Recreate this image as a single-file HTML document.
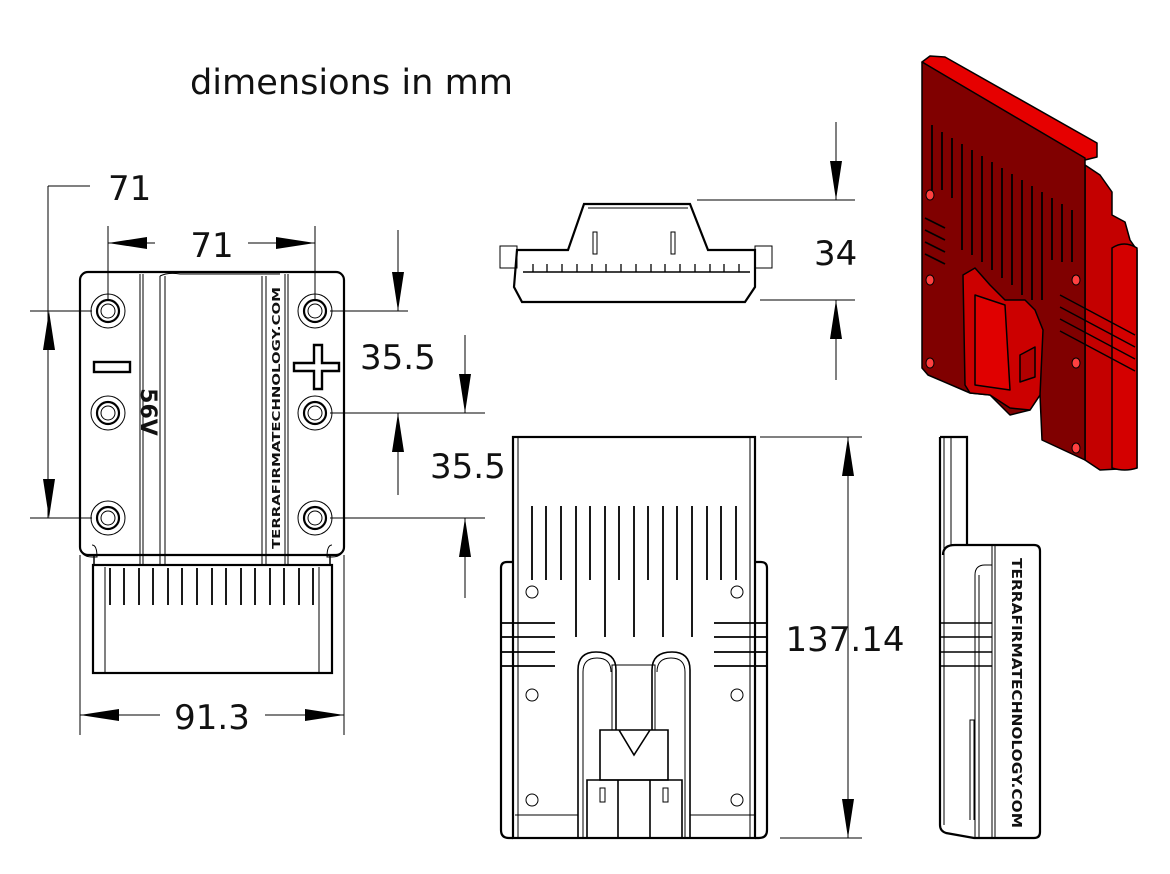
<!DOCTYPE html>
<html><head><meta charset="utf-8"><style>
html,body{margin:0;padding:0;background:#fff;}
svg{display:block;}
text{font-family:"DejaVu Sans","Liberation Sans",sans-serif;fill:#111;}
</style></head><body>
<svg width="1170" height="874" viewBox="0 0 1170 874" xmlns="http://www.w3.org/2000/svg">
<g fill="none" stroke="#000" stroke-width="1">
<!-- ===== FRONT VIEW ===== -->
<rect x="80" y="272" width="264" height="283" rx="8" stroke-width="2.2"/>
<path d="M80,545 q0,12 12,12 h5 q0,-12 -5,-12 M344,545 q0,12 -12,12 h-5 q0,-12 5,-12"/>
<path d="M94,555 v10 h236 v-10" stroke-width="1.5"/>
<line x1="140" y1="274" x2="140" y2="565"/><line x1="143" y1="274" x2="143" y2="565"/>
<line x1="160" y1="276" x2="160" y2="565"/><line x1="165" y1="276" x2="165" y2="565"/>
<line x1="262" y1="276" x2="262" y2="565"/><line x1="266" y1="276" x2="266" y2="565"/>
<line x1="285" y1="274" x2="285" y2="565"/><line x1="288" y1="274" x2="288" y2="565"/>
<path d="M160,276 q8,-4 20,-2 h100"/>
<rect x="93" y="565" width="239" height="108" stroke-width="2.2"/>
<line x1="105" y1="567" x2="105" y2="672"/><line x1="319" y1="567" x2="319" y2="672"/>
<g stroke-width="1.8">
<line x1="110" y1="568" x2="110" y2="605"/><line x1="124" y1="568" x2="124" y2="605"/><line x1="139" y1="568" x2="139" y2="605"/><line x1="153" y1="568" x2="153" y2="605"/><line x1="168" y1="568" x2="168" y2="605"/><line x1="182" y1="568" x2="182" y2="605"/><line x1="197" y1="568" x2="197" y2="605"/><line x1="212" y1="568" x2="212" y2="605"/><line x1="226" y1="568" x2="226" y2="605"/><line x1="241" y1="568" x2="241" y2="605"/><line x1="255" y1="568" x2="255" y2="605"/><line x1="270" y1="568" x2="270" y2="605"/><line x1="284" y1="568" x2="284" y2="605"/><line x1="299" y1="568" x2="299" y2="605"/><line x1="313" y1="568" x2="313" y2="605"/>
</g>
<!-- holes -->
<g>
<circle cx="108" cy="311" r="17"/><circle cx="108" cy="311" r="11" stroke-width="2.2"/><circle cx="108" cy="311" r="7"/>
<circle cx="315" cy="311" r="17"/><circle cx="315" cy="311" r="11" stroke-width="2.2"/><circle cx="315" cy="311" r="7"/>
<circle cx="108" cy="413" r="17"/><circle cx="108" cy="413" r="11" stroke-width="2.2"/><circle cx="108" cy="413" r="7"/>
<circle cx="315" cy="413" r="17"/><circle cx="315" cy="413" r="11" stroke-width="2.2"/><circle cx="315" cy="413" r="7"/>
<circle cx="108" cy="518" r="17"/><circle cx="108" cy="518" r="11" stroke-width="2.2"/><circle cx="108" cy="518" r="7"/>
<circle cx="315" cy="518" r="17"/><circle cx="315" cy="518" r="11" stroke-width="2.2"/><circle cx="315" cy="518" r="7"/>
</g>
<rect x="94" y="362" width="36" height="10" stroke-width="2.4"/>
<path d="M314,345 h8 v18 h17 v8 h-17 v18 h-8 v-18 h-20 v-8 h20 z" stroke-width="2.4"/>
<!-- dims front -->
<path d="M48,186 H90 M48,186 V518 M30,311 H92 M30,518 H92"/>
<path d="M108,226 V300 M315,226 V300 M108,243 H155 M248,243 H315"/>
<path d="M80,555 V735 M344,555 V735 M80,715 H160 M265,715 H344"/>
<path d="M398,230 V311 M330,311 H408 M465,335 V413 M330,413 H485 M398,413 V495 M330,518 H485 M465,518 V598"/>
<!-- ===== TOP VIEW ===== -->
<path d="M517,250 H568 L584,204 H690 L708,250 H755 V287 L745,302 H522 L514,287 Z" stroke-width="2.2"/>
<path d="M500,246 h17 v22 h-17 z M755,246 h17 v22 h-17 z"/>
<path d="M588,208 H688"/>
<line x1="523" y1="272" x2="750" y2="272" stroke-width="1.5"/>
<path d="M593,232 v22 h4 v-22 z M671,232 v22 h4 v-22 z"/>
<g stroke-width="1.3"><line x1="533" y1="264" x2="533" y2="272"/><line x1="547" y1="264" x2="547" y2="272"/><line x1="562" y1="264" x2="562" y2="272"/><line x1="577" y1="264" x2="577" y2="272"/><line x1="592" y1="264" x2="592" y2="272"/><line x1="606" y1="264" x2="606" y2="272"/><line x1="621" y1="264" x2="621" y2="272"/><line x1="636" y1="264" x2="636" y2="272"/><line x1="651" y1="264" x2="651" y2="272"/><line x1="665" y1="264" x2="665" y2="272"/><line x1="680" y1="264" x2="680" y2="272"/><line x1="695" y1="264" x2="695" y2="272"/><line x1="710" y1="264" x2="710" y2="272"/><line x1="724" y1="264" x2="724" y2="272"/><line x1="739" y1="264" x2="739" y2="272"/></g>
<path d="M836,122 V200 M697,200 H855 M760,300 H855 M836,300 V380"/>
<!-- ===== BOTTOM VIEW ===== -->
<rect x="513" y="437" width="242" height="401" stroke-width="2.2"/>
<line x1="518" y1="437" x2="518" y2="838"/><line x1="750" y1="437" x2="750" y2="838"/>
<path d="M513,562 H507 q-6,0 -6,6 V830 q0,8 8,8 H513 M755,562 H761 q6,0 6,6 V830 q0,8 -8,8 H755" stroke-width="2.2"/>
<g stroke-width="1.8">
<line x1="532" y1="506" x2="532" y2="580"/><line x1="546" y1="506" x2="546" y2="580"/><line x1="561" y1="506" x2="561" y2="580"/><line x1="576" y1="506" x2="576" y2="637"/><line x1="590" y1="506" x2="590" y2="580"/><line x1="605" y1="506" x2="605" y2="637"/><line x1="619" y1="506" x2="619" y2="580"/><line x1="634" y1="506" x2="634" y2="637"/><line x1="648" y1="506" x2="648" y2="580"/><line x1="663" y1="506" x2="663" y2="637"/><line x1="677" y1="506" x2="677" y2="580"/><line x1="692" y1="506" x2="692" y2="637"/><line x1="707" y1="506" x2="707" y2="580"/><line x1="721" y1="506" x2="721" y2="580"/><line x1="736" y1="506" x2="736" y2="580"/>
<path d="M502,623 H555 M502,637 H555 M502,652 H555 M502,666 H555 M714,623 H767 M714,637 H767 M714,652 H767 M714,666 H767"/>
</g>
<circle cx="532" cy="592" r="6"/><circle cx="737" cy="592" r="6"/><circle cx="532" cy="695" r="6"/><circle cx="737" cy="695" r="6"/><circle cx="532" cy="800" r="6"/><circle cx="737" cy="800" r="6"/>
<path d="M578,838 V670 q0,-18 18,-18 q20,0 20,18 v60 M690,838 V670 q0,-18 -18,-18 q-20,0 -20,18 v60" stroke-width="1.6"/>
<path d="M583,838 V672 q0,-14 14,-14 q14,0 14,14 M685,838 V672 q0,-14 -14,-14 q-14,0 -14,14"/>
<path d="M612,665 H655 V730 H612 Z"/>
<path d="M600,730 H668 V780 H600 Z M619,730 L634,755 L650,730" stroke-width="1.6"/>
<path d="M587,780 H682 V838 H587 Z M618,780 V838 M650,780 V838" stroke-width="1.6"/>
<rect x="600" y="788" width="5" height="14"/><rect x="663" y="788" width="5" height="14"/>
<path d="M515,815 H578 M690,815 H755"/>
<path d="M848,437 V838 M760,437 H862 M780,838 H862"/>
<!-- ===== SIDE VIEW ===== -->
<path d="M940,437 H967 V545 H955 q-12,0 -12,10 M940,437 V825 q0,6 6,8 l28,5 H1034 q6,0 6,-6 V551 q0,-6 -6,-6 H967" stroke-width="2.2"/>
<line x1="944" y1="437" x2="944" y2="825"/><line x1="951" y1="437" x2="951" y2="545"/>
<path d="M995,545 V838 M992,545 V838"/>
<path d="M975,838 V575 q0,-10 10,-10 h7 M979,838 V575"/>
<path d="M941,623 H992 M941,637 H992 M941,652 H992 M941,666 H992" stroke-width="1.6"/>
<path d="M970,820 V720 h4 V820"/>
</g>
<!-- arrowheads -->
<g fill="#000">
<polygon points="49,311 43,350 55,350"/><polygon points="49,518 43,479 55,479"/>
<polygon points="108,243 147,237 147,249"/><polygon points="315,243 276,237 276,249"/>
<polygon points="80,715 119,709 119,721"/><polygon points="344,715 305,709 305,721"/>
<polygon points="398,311 392,272 404,272"/><polygon points="465,413 459,374 471,374"/>
<polygon points="398,413 392,452 404,452"/><polygon points="465,518 459,557 471,557"/>
<polygon points="836,200 830,161 842,161"/><polygon points="836,300 830,339 842,339"/>
<polygon points="848,437 842,476 854,476"/><polygon points="848,838 842,799 854,799"/>
</g>
<!-- ===== ISO RED ===== -->
<g stroke="#000" stroke-width="1.5" stroke-linejoin="round">
<polygon points="1085,165 1100,175 1112,192 1112,215 1125,222 1130,240 1137,250 1137,468 1100,470 1085,460" fill="#c40000"/>
<path d="M1112,248 q12,-8 25,0 V468 q-12,4 -25,0 Z" fill="#d40000"/>
<polygon points="922,62 930,56 945,57 1097,143 1097,157 1085,160" fill="#e60000"/>
<polygon points="922,62 1085,158 1085,460 1042,440 1040,395 1030,410 1010,415 990,395 970,393 928,375 922,368" fill="#800000"/>
<polygon points="963,275 975,268 990,285 1005,300 1025,300 1035,310 1043,330 1040,395 1030,410 1010,408 990,395 970,393 965,385" fill="#cc0000"/>
<polygon points="975,295 1005,305 1010,390 975,385" fill="#e00000"/>
<path d="M1020,355 l15,-8 v30 l-15,5z" fill="#b00000"/>
</g>
<g stroke="#000" stroke-width="1.8">
<line x1="932" y1="125" x2="932" y2="190"/><line x1="942" y1="132" x2="942" y2="190"/><line x1="952" y1="138" x2="952" y2="198"/><line x1="962" y1="144" x2="962" y2="250"/><line x1="972" y1="150" x2="972" y2="255"/><line x1="982" y1="156" x2="982" y2="262"/><line x1="992" y1="162" x2="992" y2="270"/><line x1="1002" y1="168" x2="1002" y2="278"/><line x1="1012" y1="174" x2="1012" y2="285"/><line x1="1022" y1="180" x2="1022" y2="295"/><line x1="1032" y1="186" x2="1032" y2="300"/><line x1="1042" y1="192" x2="1042" y2="300"/><line x1="1052" y1="198" x2="1052" y2="260"/><line x1="1062" y1="204" x2="1062" y2="262"/><line x1="1072" y1="210" x2="1072" y2="262"/>
<path d="M925,218 L945,228 M925,230 L945,240 M925,242 L945,252 M925,254 L945,264" fill="none"/>
<path d="M1060,295 L1135,335 M1060,307 L1135,347 M1060,319 L1135,359 M1060,331 L1135,371" fill="none" stroke-width="1.4"/>
</g>
<g fill="#ff4040" stroke="#000" stroke-width="1">
<ellipse cx="930" cy="195" rx="4" ry="5"/><ellipse cx="930" cy="280" rx="4" ry="5"/><ellipse cx="930" cy="363" rx="4" ry="5"/>
<ellipse cx="1076" cy="280" rx="4" ry="5"/><ellipse cx="1076" cy="363" rx="4" ry="5"/><ellipse cx="1076" cy="448" rx="4" ry="5"/>
</g>
<!-- ===== TEXT ===== -->
<text x="190" y="94" font-size="35" textLength="323" lengthAdjust="spacingAndGlyphs">dimensions in mm</text>
<text x="108" y="200" font-size="34">71</text>
<text x="212" y="257" font-size="34" text-anchor="middle">71</text>
<text x="212" y="729" font-size="34" text-anchor="middle">91.3</text>
<text x="360" y="369" font-size="34">35.5</text>
<text x="430" y="478" font-size="34">35.5</text>
<text x="814" y="265" font-size="34">34</text>
<text x="845" y="651" font-size="34" text-anchor="middle">137.14</text>
<text transform="translate(141,412) rotate(90)" font-size="22" font-weight="bold" text-anchor="middle" font-family="Liberation Sans">56V</text>
<text transform="translate(280,418) rotate(-90)" font-size="10.5" font-weight="bold" text-anchor="middle" textLength="262" lengthAdjust="spacingAndGlyphs" font-family="Liberation Sans">TERRAFIRMATECHNOLOGY.COM</text>
<text transform="translate(1012,693) rotate(90)" font-size="13" font-weight="bold" text-anchor="middle" textLength="270" lengthAdjust="spacingAndGlyphs" font-family="Liberation Sans">TERRAFIRMATECHNOLOGY.COM</text>
</svg>
</body></html>
